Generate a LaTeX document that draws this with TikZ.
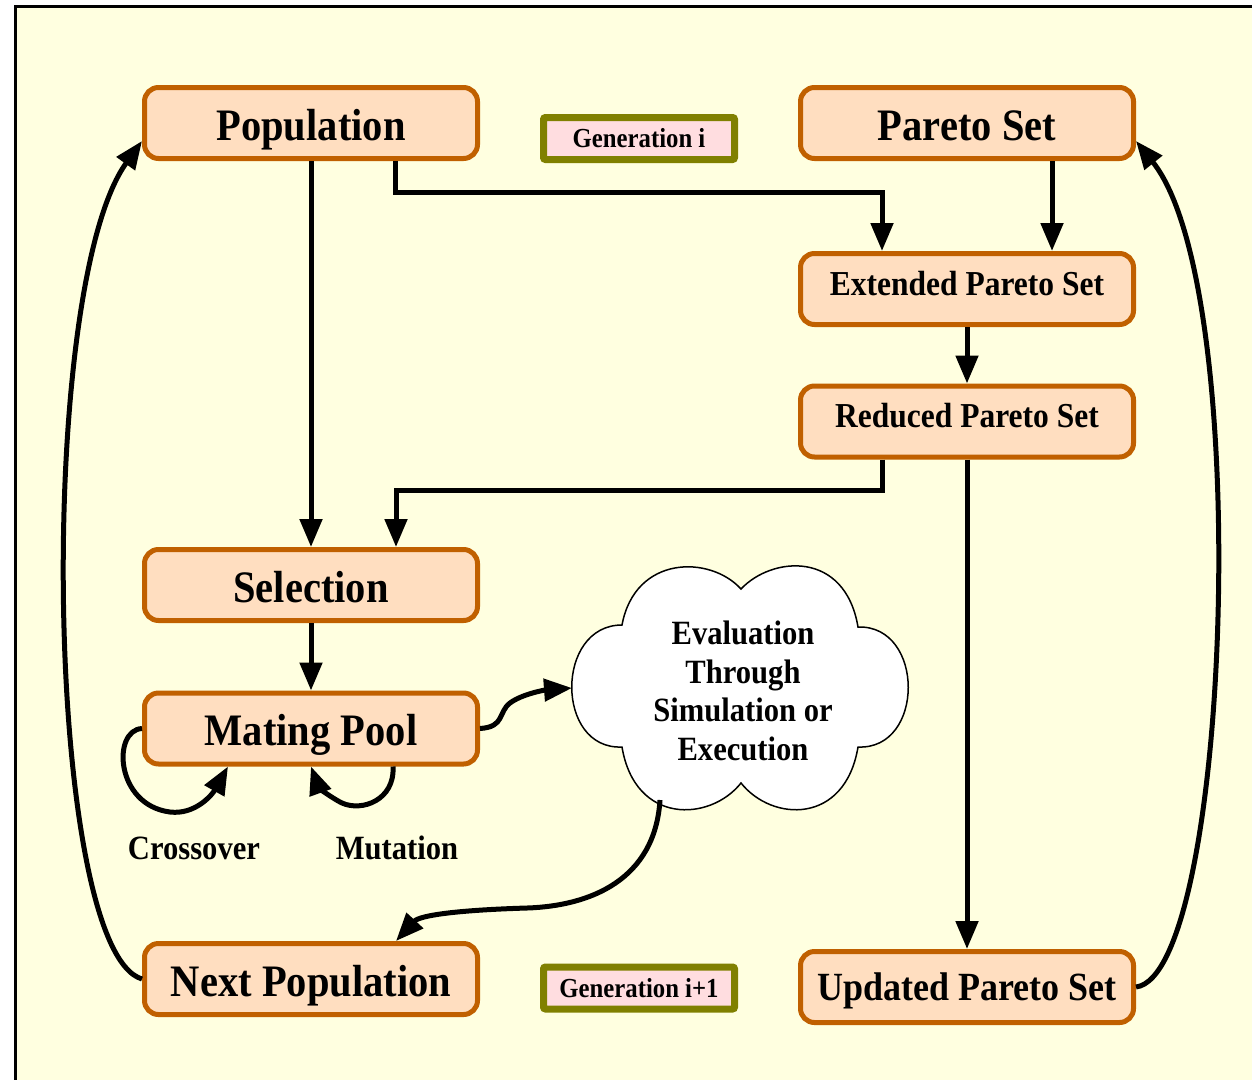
\documentclass[tikz,border=0pt]{standalone}
\usepackage{fontspec}
\setmainfont{Liberation Serif}[FakeStretch=0.9]
\usetikzlibrary{arrows.meta}
\definecolor{bgyellow}{RGB}{255,255,224}
\definecolor{boxfill}{RGB}{255,222,192}
\definecolor{boxborder}{RGB}{192,96,0}
\definecolor{genfill}{RGB}{255,221,224}
\definecolor{genborder}{RGB}{128,128,0}
\tikzset{
  box/.style={draw=boxborder, fill=boxfill, line width=5pt, rounded corners=14pt,
    minimum width=333pt, minimum height=71pt, inner sep=0pt,
    text height=40pt, text depth=6pt,
    font=\bfseries\fontsize{45}{50}\selectfont},
  midbox/.style={box, text height=25pt, text depth=13pt,
    font=\bfseries\fontsize{35}{40}\selectfont},
  genbox/.style={draw=genborder, fill=genfill, line width=7pt, rounded corners=2pt,
    minimum width=191pt, minimum height=42pt, inner sep=0pt,
    font=\bfseries\fontsize{27.5}{30}\selectfont},
  arr/.style={line width=5pt, -{Triangle[length=28pt,width=22pt]}},
  lbl/.style={font=\bfseries\fontsize{34}{38}\selectfont, inner sep=0pt},
}
\begin{document}
\begin{tikzpicture}[x=1pt,y=-1pt]
\useasboundingbox (0,0) rectangle (1252,1079);
\clip (0,0) rectangle (1252,1079);
\fill[white] (0,0) rectangle (1252,1079);
\draw[line width=3pt, fill=bgyellow] (15,6) rectangle (1270,1100);

% nodes
\node[box] (pop) at (311,123) {Population};
\node[box] (pareto) at (967,123) {Pareto Set};
\node[midbox] (ext) at (967,289) {Extended Pareto Set};
\node[midbox] (red) at (967,421.5) {Reduced Pareto Set};
\node[box] (sel) at (311,585) {Selection};
\node[box] (mate) at (311,728.5) {Mating Pool};
\node[box] (next) at (311,979) {Next Population};
\node[box, text height=34pt, text depth=8pt, font=\bfseries\fontsize{40}{46}\selectfont] (upd) at (967,987) {Updated Pareto Set};
\node[genbox] (gen1) at (639,138.5) {Generation i};
\node[genbox] (gen2) at (639,988) {Generation i+1};

% cloud
\draw[line width=1.5pt, fill=white]
  (741,589) .. controls (710,555) and (635,555) .. (622,625)
  .. controls (555,625) and (555,750) .. (622,747)
  .. controls (635,825) and (710,822) .. (741,783)
  .. controls (772,822) and (845,825) .. (858,747)
  .. controls (925,750) and (925,625) .. (858,627)
  .. controls (845,550) and (772,556) .. (741,589) -- cycle;
\node[lbl, align=center, font=\bfseries\fontsize{34}{38.5}\selectfont] (eval) at (743,691)
  {Evaluation\\Through\\Simulation or\\Execution};
\coordinate (evalW) at (572,688);
\coordinate (evalS) at (660,800);

\node[lbl] (cross) at (194,848) {Crossover};
\node[lbl] (mut) at (397,848) {Mutation};

% connectors
\draw[arr] (pop.south) -- (sel.north);
\draw[arr] ([xshift=84pt]pop.south) -- ++(0,31) -| ([xshift=-85pt]ext.north);
\draw[arr] ([xshift=85pt]pareto.south) -- ([xshift=85pt]ext.north);
\draw[arr] (ext.south) -- (red.south |- red.north);
\draw[arr] ([xshift=-85pt]red.south) -- ++(0,31) -| ([xshift=85pt]sel.north);
\draw[arr] (red.south) -- (upd.north);
\draw[arr] (sel.south) -- (mate.north);
\draw[arr] (mate.east) .. controls (505,727) and (498,712) .. (510,703)
  .. controls (522,694) and (545,690) .. (evalW);
\draw[arr] (evalS) .. controls (655,880) and (590,906) .. (527,908)
  .. controls (460,910) and (420,915) .. ([xshift=85pt]next.north);
\draw[arr] (next.west) .. controls (45,950) and (35,290) .. ([yshift=-18pt]pop.west);
\draw[arr] (upd.east) .. controls (1230,975) and (1255,290) .. ([yshift=-18pt]pareto.east);
\draw[arr] (mate.west) .. controls (112,730) and (115,805) .. (170,812)
  .. controls (195,815) and (212,795) .. ([xshift=-83pt]mate.south);
\draw[arr] ([xshift=82pt]mate.south) .. controls (395,800) and (362,812) .. (342,803)
  .. controls (328,796) and (318,786) .. (mate.south);
\end{tikzpicture}
\end{document}
